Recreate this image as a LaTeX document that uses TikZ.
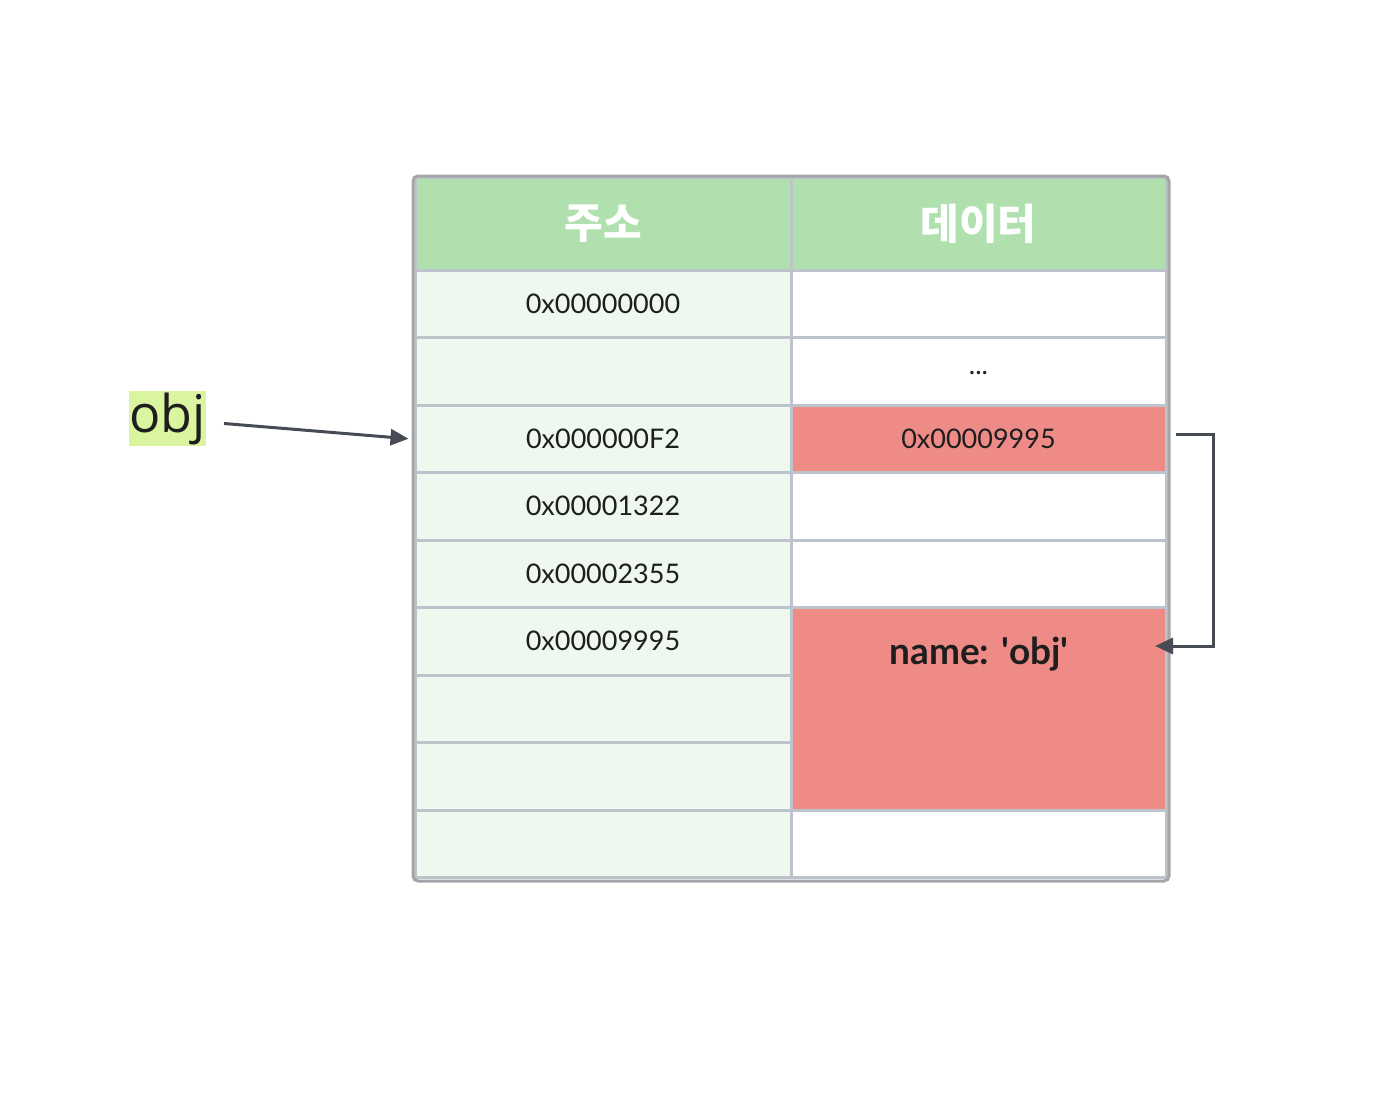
\documentclass[tikz,border=0pt]{standalone}
\usepackage{fontspec}
\setmainfont{Lato}
\newfontfamily\krfont{Noto Sans CJK KR}
\newfontfamily\objfont{Open Sans}
\usetikzlibrary{arrows.meta}
\definecolor{hdrgreen}{HTML}{AFE0AD}
\definecolor{leftgreen}{HTML}{EEF8EE}
\definecolor{cellred}{HTML}{EF8B86}
\definecolor{gridc}{HTML}{BDC3CA}
\definecolor{outerc}{HTML}{A2A6AA}
\definecolor{arrc}{HTML}{474B53}
\definecolor{hilite}{HTML}{DAF5A0}
\definecolor{txtc}{HTML}{1E1E1E}
\tikzset{
  cellbase/.style={draw=gridc, line width=1.5pt, inner sep=0pt, minimum height=33.75pt, text=txtc, font=\fontsize{13.5}{15}\selectfont},
  lcell/.style={cellbase, fill=leftgreen, minimum width=188pt},
  rcell/.style={cellbase, fill=white, minimum width=187.5pt},
  redcell/.style={cellbase, fill=cellred, minimum width=187.5pt},
  hdr/.style={draw=gridc, line width=1.5pt, fill=hdrgreen, minimum height=46.5pt, inner sep=0pt, text=white, font=\krfont\bfseries\fontsize{21}{24}\selectfont},
  arr/.style={draw=arrc, line width=1.5pt, -{Triangle[length=9pt,width=8pt]}},
}
\begin{document}
\begin{tikzpicture}[x=0.5pt,y=-0.5pt]
\useasboundingbox (0,0) rectangle (1376,1098);
% header
\node[hdr, minimum width=188pt] (h1) at (603,223.5) {주소};
\node[hdr, minimum width=187.5pt] (h2) at (978.5,223.5) {데이터};
% left column
\node[lcell] (a1) at (603,303.75) {0x00000000};
\node[lcell] (a2) at (603,371.25) {};
\node[lcell] (a3) at (603,438.75) {0x000000F2};
\node[lcell] (a4) at (603,506.25) {0x00001322};
\node[lcell] (a5) at (603,573.75) {0x00002355};
\node[lcell] (a6) at (603,641.25) {0x00009995};
\node[lcell] (a7) at (603,708.75) {};
\node[lcell] (a8) at (603,776.25) {};
\node[lcell] (a9) at (603,843.75) {};
% right column
\node[rcell] (d1) at (978.5,303.75) {};
\node[rcell] (d2) at (978.5,371.25) {\raisebox{-3.5pt}{...}};
\node[redcell] (d3) at (978.5,438.75) {0x00009995};
\node[rcell] (d4) at (978.5,506.25) {};
\node[rcell] (d5) at (978.5,573.75) {};
\node[redcell, minimum height=101.25pt] (d6) at (978.5,708.75) {};
\node[rcell] (d9) at (978.5,843.75) {};
\node[anchor=base, text=txtc, font=\bfseries\fontsize{18.5}{20}\selectfont] (nametext) at (979,664) {name: \textquotesingle obj\textquotesingle};
% outer border
\draw[outerc, line width=1.5pt, rounded corners=2.5pt] (413,176) rectangle (1169,881);
% obj label
\node[fill=hilite, inner xsep=0pt, inner ysep=0pt, minimum height=27.5pt, text=txtc, font=\objfont\fontsize{26}{28}\selectfont] (obj) at (167.5,418.5) {obj};
% connectors
\draw[arr] ([xshift=9pt,yshift=-2.5pt]obj.east) -- ([xshift=-2.5pt]a3.west);
\coordinate (tip) at (1155,646);
\coordinate (bend) at (1213,646);
\draw[arr] ([xshift=4pt,yshift=2pt]d3.east) -| (bend) -- (tip);
\end{tikzpicture}
\end{document}
